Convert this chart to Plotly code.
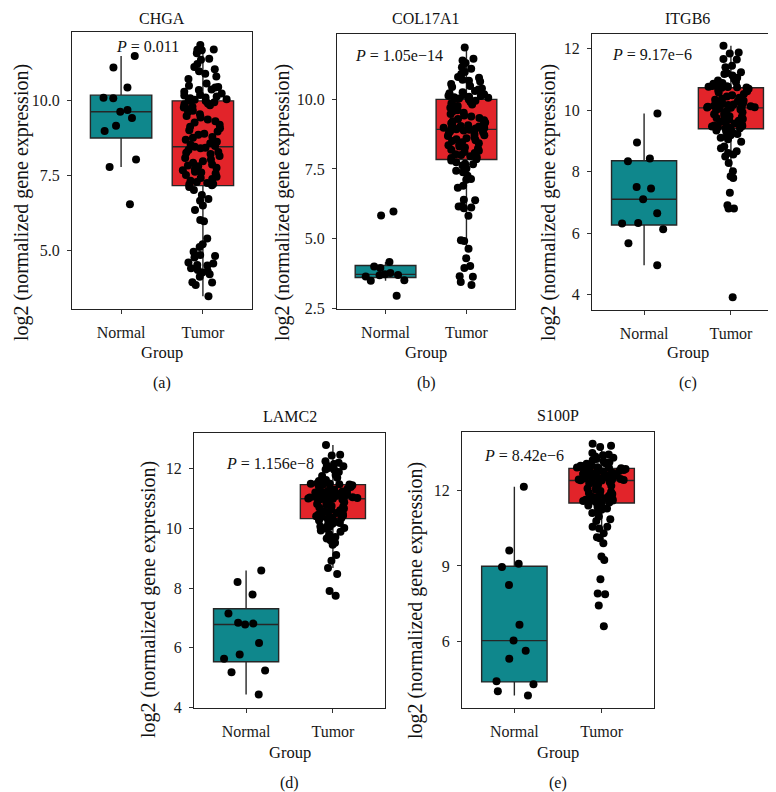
import plotly.graph_objects as go

W, H = 776, 792

groups = ["Normal", "Tumor"]
genes = ["CHGA", "COL17A1", "ITGB6", "LAMC2", "S100P"]
p_labels = ["<i>P</i> = 0.011", "<i>P</i> = 1.05e\u221214", "<i>P</i> = 9.17e\u22126",
            "<i>P</i> = 1.156e\u22128", "<i>P</i> = 8.42e\u22126"]
panel_tags = ["(a)", "(b)", "(c)", "(d)", "(e)"]

# ---------------- data (log2 normalized expression) ----------------
chga_normal = [11.49, 11.11, 10.44, 10.10, 10.08, 9.69, 9.63, 9.42, 9.16, 8.99, 8.04, 7.79, 6.54]
chga_tumor = [11.86, 11.71, 11.70, 11.68, 11.58, 11.40, 11.37, 11.22, 11.12, 11.05, 10.98, 10.90,
              10.81, 10.72, 10.57, 10.50, 10.46, 10.44, 10.37, 10.36, 10.30, 10.24, 10.19, 10.17,
              10.14, 10.11, 10.08, 10.05, 10.03, 10.01,
              9.99, 9.95, 9.91, 9.88, 9.85, 9.80, 9.77, 9.71, 9.66, 9.63, 9.55, 9.49, 9.44, 9.37,
              9.31, 9.27, 9.20, 9.13, 9.08, 9.01, 8.97, 8.90, 8.86, 8.79, 8.76, 8.70, 8.63, 8.58,
              8.53, 8.49, 8.46,
              8.43, 8.41, 8.35, 8.29, 8.26, 8.22, 8.15, 8.09, 8.04, 7.98, 7.93, 7.87, 7.84, 7.81,
              7.76, 7.71, 7.68, 7.63, 7.60, 7.57, 7.52, 7.46, 7.42, 7.39, 7.33, 7.29, 7.25, 7.22,
              7.20, 7.18,
              7.12, 7.02, 6.85, 6.72, 6.66, 6.50, 6.35, 6.02, 5.98, 5.40, 5.21, 5.12, 4.96, 4.85,
              4.82, 4.77, 4.60, 4.57, 4.52, 4.50, 4.41, 4.35, 4.32, 4.27, 4.21, 4.12, 3.94, 3.93,
              3.85, 3.47]

col17a1_normal = [5.97, 5.83, 4.16, 4.00, 3.95, 3.77, 3.72, 3.70, 3.69, 3.64, 3.51, 3.49, 2.95]
col17a1_tumor = [11.86, 11.45, 11.39, 11.30, 11.15, 11.09, 10.98, 10.91, 10.80, 10.77, 10.70, 10.66,
                 10.64, 10.55, 10.48, 10.44, 10.39, 10.35, 10.30, 10.25, 10.22, 10.18, 10.15, 10.13,
                 10.12, 10.09, 10.07, 10.05, 10.03, 10.01,
                 9.99, 9.95, 9.90, 9.86, 9.81, 9.76, 9.70, 9.66, 9.61, 9.57, 9.52, 9.47, 9.42, 9.38,
                 9.33, 9.29, 9.25, 9.21, 9.17, 9.14, 9.10, 9.07, 9.04, 9.02, 9.00, 8.98, 8.97, 8.95,
                 8.94, 8.93, 8.92,
                 8.91, 8.88, 8.85, 8.82, 8.78, 8.75, 8.71, 8.68, 8.64, 8.60, 8.57, 8.53, 8.50, 8.46,
                 8.42, 8.39, 8.35, 8.31, 8.27, 8.23, 8.19, 8.15, 8.11, 8.07, 8.03, 8.00, 7.96, 7.92,
                 7.89, 7.85,
                 7.80, 7.74, 7.69, 7.67, 7.62, 7.52, 7.44, 7.38, 7.26, 7.14, 7.11, 6.90, 6.83, 6.40,
                 6.38, 6.17, 6.15, 6.12, 6.09, 5.82, 4.94, 4.92, 4.64, 4.30, 4.02, 3.95, 3.65, 3.63,
                 3.45, 3.34]

itgb6_normal = [9.89, 8.94, 8.42, 8.33, 7.50, 7.45, 7.10, 6.64, 6.33, 6.31, 6.12, 5.67, 4.95]
itgb6_tumor = [12.09, 11.87, 11.84, 11.66, 11.64, 11.44, 11.39, 11.23, 11.20, 11.17, 11.12, 11.05,
               11.01, 10.96, 10.91, 10.88, 10.85, 10.82, 10.80, 10.78, 10.77, 10.76, 10.75, 10.74,
               10.73,
               10.72, 10.69, 10.65, 10.61, 10.57, 10.52, 10.48, 10.44, 10.40, 10.37, 10.33, 10.30,
               10.28, 10.25, 10.22, 10.20, 10.18, 10.16, 10.14, 10.12, 10.11, 10.10, 10.09, 10.08,
               10.075, 10.07,
               10.05, 10.02, 9.99, 9.96, 9.93, 9.90, 9.86, 9.83, 9.80, 9.77, 9.74, 9.71, 9.68, 9.65,
               9.62, 9.59, 9.56, 9.53, 9.50, 9.48, 9.46, 9.44, 9.42, 9.41, 9.40,
               9.37, 9.33, 9.30, 9.26, 9.22, 9.18, 9.14, 9.10, 9.05, 8.97, 8.81, 8.76, 8.66, 8.60,
               8.55, 8.49, 8.28, 8.01, 7.85, 7.79, 7.31, 6.90, 6.80, 6.80, 3.91]

lamc2_normal = [8.59, 8.20, 7.78, 7.15, 6.84, 6.81, 6.78, 6.16, 5.78, 5.63, 5.24, 5.18, 4.44]
lamc2_tumor = [12.79, 12.46, 12.44, 12.24, 12.19, 12.15, 12.10, 12.08, 12.02, 11.97, 11.95, 11.88,
               11.78, 11.75, 11.69, 11.62, 11.58, 11.55, 11.53, 11.51, 11.50, 11.49, 11.48, 11.47,
               11.465,
               11.46, 11.44, 11.41, 11.38, 11.35, 11.32, 11.29, 11.26, 11.23, 11.21, 11.20, 11.18,
               11.16, 11.14, 11.12, 11.10, 11.08, 11.07, 11.05, 11.04, 11.03, 11.02, 11.01, 11.00,
               10.995, 10.99,
               10.98, 10.96, 10.93, 10.90, 10.87, 10.84, 10.81, 10.78, 10.75, 10.72, 10.69, 10.66,
               10.63, 10.60, 10.57, 10.54, 10.51, 10.48, 10.45, 10.42, 10.40, 10.38, 10.36, 10.34,
               10.33,
               10.30, 10.26, 10.24, 10.21, 10.18, 10.15, 10.10, 10.06, 10.04, 10.01, 9.99, 9.93,
               9.88, 9.80, 9.71, 9.66, 9.60, 9.52, 9.45, 9.11, 8.91, 8.67, 8.47, 7.90, 7.74]

s100p_normal = [12.14, 9.61, 9.09, 8.96, 8.25, 6.67, 6.04, 5.64, 5.32, 4.43, 4.31, 4.03, 3.86]
s100p_tumor = [13.85, 13.77, 13.72, 13.48, 13.42, 13.39, 13.35, 13.30, 13.25, 13.20, 13.16, 13.12,
               13.08, 13.06, 13.02, 13.00, 12.98, 12.96, 12.94, 12.93, 12.92, 12.91, 12.90, 12.89,
               12.88,
               12.87, 12.85, 12.83, 12.81, 12.79, 12.77, 12.75, 12.72, 12.70, 12.68, 12.65, 12.63,
               12.60, 12.58, 12.56, 12.53, 12.51, 12.49, 12.47, 12.45, 12.43, 12.42, 12.41, 12.40,
               12.395, 12.39,
               12.36, 12.32, 12.27, 12.22, 12.18, 12.13, 12.08, 12.03, 11.98, 11.94, 11.90, 11.86,
               11.82, 11.79, 11.75, 11.72, 11.69, 11.66, 11.63, 11.60, 11.58, 11.56, 11.54, 11.52,
               11.51,
               11.48, 11.40, 11.35, 11.28, 11.28, 11.23, 11.19, 11.10, 10.96, 10.85, 10.79, 10.56,
               10.56, 10.49, 10.30, 10.14, 10.10, 9.90, 9.38, 9.24, 8.47, 7.91, 7.88, 7.43, 6.61]

normal_sets = [chga_normal, col17a1_normal, itgb6_normal, lamc2_normal, s100p_normal]
tumor_sets = [chga_tumor, col17a1_tumor, itgb6_tumor, lamc2_tumor, s100p_tumor]

y_ranges = [[3.05, 12.30], [2.48, 12.35], [3.50, 12.48], [3.99, 13.20], [3.37, 14.33]]
y_ticks = [[5.0, 7.5, 10.0], [2.5, 5.0, 7.5, 10.0], [4, 6, 8, 10, 12], [4, 6, 8, 10, 12], [6, 9, 12]]
y_fmt = [".1f", ".1f", "d", "d", "d"]

# ---------------- layout geometry (pixels) ----------------
frames = [(64, 244, 24, 304), (329, 507, 26, 304), (584, 775, 26, 305),
          (186, 377, 429, 707), (454, 646, 428, 707)]
p_pos = [(139, 39), (391, 48), (644, 47), (262, 460), (516, 452)]
ylab_pos = [(13, 197), (274, 197), (540, 197), (141, 598), (408, 599)]
title_y = [11, 11, 11, 413, 412]
group_y = [348, 348, 348, 752, 752]
tag_y = [379, 379, 379, 783, 783]

TEAL = "#0F878C"
RED = "#E2242A"
SERIF = "Liberation Serif"

fig = go.Figure()
annotations = []

def px(x):
    return x / W

def py(y):
    return 1 - y / H

for i in range(5):
    k = "" if i == 0 else str(i + 1)
    xa, ya = "x" + k, "y" + k
    for grp, vals, col in ((groups[0], normal_sets[i], TEAL), (groups[1], tumor_sets[i], RED)):
        fig.add_trace(go.Box(
            x=[grp] * len(vals), y=vals, xaxis=xa, yaxis=ya,
            boxpoints="all", jitter=0.8, pointpos=0, width=0.75,
            fillcolor=col, line=dict(color="#262626", width=1.4),
            whiskerwidth=0,
            marker=dict(color="black", size=8, line=dict(width=0)),
            showlegend=False, hoverinfo="y",
        ))
    x0, x1, y0, y1 = frames[i]
    fig.layout["xaxis" + k] = dict(
        domain=[px(x0), px(x1)], anchor=ya, type="category",
        categoryorder="array", categoryarray=groups, range=[-0.6, 1.6],
        showline=True, mirror=True, linecolor="#222", linewidth=1.2,
        ticks="outside", ticklen=4, tickcolor="#333", ticklabelstandoff=5,
        tickfont=dict(family=SERIF, size=16, color="#1a1a1a"),
        showgrid=False, zeroline=False,
    )
    tv = y_ticks[i]
    tt = [format(v, ".1f") if y_fmt[i] == ".1f" else str(int(v)) for v in tv]
    fig.layout["yaxis" + k] = dict(
        domain=[py(y1), py(y0)], anchor=xa, range=y_ranges[i],
        tickvals=tv, ticktext=tt,
        showline=True, mirror=True, linecolor="#222", linewidth=1.2,
        ticks="outside", ticklen=4, tickcolor="#333", ticklabelstandoff=4,
        tickfont=dict(family=SERIF, size=16, color="#1a1a1a"),
        showgrid=False, zeroline=False,
    )
    cx = (x0 + x1) / 2
    annotations.append(dict(text=genes[i], x=px(cx), y=py(title_y[i]), xref="paper", yref="paper",
                            showarrow=False, xanchor="center", yanchor="middle",
                            font=dict(family=SERIF, size=16, color="#111")))
    annotations.append(dict(text="Group", x=px(cx), y=py(group_y[i]), xref="paper", yref="paper",
                            showarrow=False, xanchor="center", yanchor="middle",
                            font=dict(family=SERIF, size=16.5, color="#111")))
    annotations.append(dict(text=panel_tags[i], x=px(cx), y=py(tag_y[i]), xref="paper", yref="paper",
                            showarrow=False, xanchor="center", yanchor="middle",
                            font=dict(family=SERIF, size=16, color="#111")))
    annotations.append(dict(text=p_labels[i], x=px(p_pos[i][0]), y=py(p_pos[i][1]), xref="paper",
                            yref="paper", showarrow=False, xanchor="center", yanchor="middle",
                            font=dict(family=SERIF, size=16, color="#111")))
    annotations.append(dict(text="log2 (normalized gene expression)", x=px(ylab_pos[i][0]),
                            y=py(ylab_pos[i][1]), xref="paper", yref="paper", textangle=-90,
                            showarrow=False, xanchor="center", yanchor="middle",
                            font=dict(family=SERIF, size=20, color="#111")))

fig.update_layout(
    width=W, height=H, margin=dict(l=0, r=0, t=0, b=0),
    paper_bgcolor="white", plot_bgcolor="white",
    annotations=annotations, showlegend=False,
)

fig.write_html("out.html")
